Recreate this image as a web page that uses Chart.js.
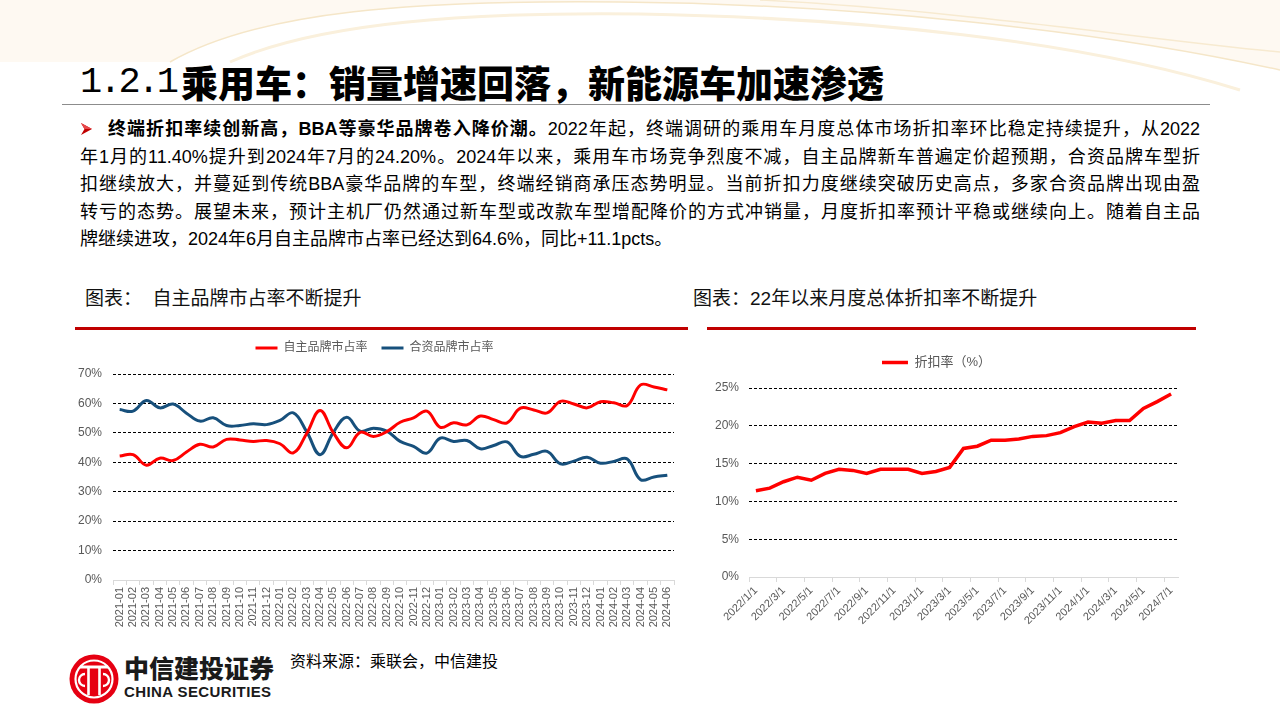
<!DOCTYPE html>
<html lang="zh-CN">
<head>
<meta charset="utf-8">
<title>1.2.1乘用车</title>
<script src="https://cdn.jsdelivr.net/npm/chart.js@4.4.1/dist/chart.umd.min.js"></script>
<style>
  html, body { margin: 0; padding: 0; }
  body {
    width: 1280px; height: 720px; position: relative; overflow: hidden; background: #fff;
    font-family: "Liberation Sans", "Noto Sans CJK SC", sans-serif; color: #000;
  }
  .abs { position: absolute; }
  #title { left: 80px; top: 61px; height: 42px; line-height: 42px; white-space: nowrap; }
  #title .num { font-family: "Liberation Mono", monospace; font-size: 37px; letter-spacing: -3px; vertical-align: top; }
  #title .cn { font-family: "Noto Sans CJK SC", sans-serif; font-weight: 900; font-size: 37px; vertical-align: top; margin-left: 5px; }
  #rule { left: 62px; top: 104px; width: 1148px; height: 1px; background: #8c8c8c; }
  #para { left: 80px; top: 116px; width: 1120px; font-size: 18px; line-height: 27.5px; }
  #para .ln { text-align: justify; text-align-last: justify; height: 27.5px; overflow: visible; }
  #para .ln.last { text-align-last: left; }
  #para .bullet { display: inline-block; width: 27px; vertical-align: -1px; }
  .head { top: 286px; font-size: 19px; line-height: 26px; white-space: nowrap; color: #111; }
  .redline { top: 327px; height: 3px; background: #c00000; }
  #src { left: 290px; top: 651px; font-size: 16px; line-height: 22px; white-space: nowrap; }
  #brand { left: 124px; top: 652px; font-family: "Noto Sans CJK SC", sans-serif; font-weight: 900; font-size: 25px; line-height: 30px; white-space: nowrap; color: #1a1a1a; }
  #brandEn { left: 124px; top: 683px; font-weight: bold; font-size: 15px; line-height: 18px; letter-spacing: 0.4px; white-space: nowrap; color: #1a1a1a; }
</style>
</head>
<body>

<!-- top decoration, kept faint -->
<svg class="abs" style="left:0;top:0" width="1280" height="110">
  <path d="M0 0 H1280 V70 C1100 30 850 4 620 2 C420 0 260 10 170 62 H0 Z" fill="#fdf7ec" opacity="0.7"/>
  <path d="M170 62 C260 10 420 0 620 2 C850 4 1100 30 1280 70" fill="none" stroke="#f5e6c8" stroke-width="1.5"/>
  <path d="M230 62 C320 22 470 12 640 14 C860 18 1080 40 1240 90" fill="none" stroke="#faf0dc" stroke-width="3"/>
  <path d="M760 0 C960 10 1150 40 1280 52" fill="none" stroke="#f7ead0" stroke-width="1.5"/>
</svg>

<div id="title" class="abs"><span class="num">1.2.1</span><span class="cn">乘用车：销量增速回落，新能源车加速渗透</span></div>
<div id="rule" class="abs"></div>

<div id="para" class="abs">
  <div class="ln"><span class="bullet"><svg width="13" height="14" viewBox="0 0 13 14"><path d="M1 1 L12 7 L1 13 L4.5 7 Z" fill="#c00000"/><path d="M1 1 L12 7 L4.5 7 Z" fill="#e8474a"/></svg></span><b>终端折扣率续创新高，BBA等豪华品牌卷入降价潮。</b>2022年起，终端调研的乘用车月度总体市场折扣率环比稳定持续提升，从2022</div>
  <div class="ln">年1月的11.40%提升到2024年7月的24.20%。2024年以来，乘用车市场竞争烈度不减，自主品牌新车普遍定价超预期，合资品牌车型折</div>
  <div class="ln">扣继续放大，并蔓延到传统BBA豪华品牌的车型，终端经销商承压态势明显。当前折扣力度继续突破历史高点，多家合资品牌出现由盈</div>
  <div class="ln">转亏的态势。展望未来，预计主机厂仍然通过新车型或改款车型增配降价的方式冲销量，月度折扣率预计平稳或继续向上。随着自主品</div>
  <div class="ln last">牌继续进攻，2024年6月自主品牌市占率已经达到64.6%，同比+11.1pcts。</div>
</div>

<div class="abs head" style="left:85px">图表：&nbsp;&nbsp;自主品牌市占率不断提升</div>
<div class="abs head" style="left:693px">图表：22年以来月度总体折扣率不断提升</div>
<div class="abs redline" style="left:75px;width:613px"></div>
<div class="abs redline" style="left:707px;width:489px"></div>

<canvas id="shareChart" class="abs" style="left:75px;top:328px" width="615" height="302"></canvas>
<canvas id="discountChart" class="abs" style="left:695px;top:342px" width="512" height="285"></canvas>

<!-- logo -->
<svg class="abs" style="left:69px;top:654px" width="50" height="50" viewBox="0 0 50 50">
  <circle cx="25" cy="25" r="24.5" fill="#e60012"/>
  <circle cx="25" cy="25" r="18.5" fill="none" stroke="#fff" stroke-width="2.2"/>
  <path d="M11 13 H39" stroke="#fff" stroke-width="3"/>
  <path d="M19.5 13 V41 M30.5 13 V41" stroke="#fff" stroke-width="2.6"/>
  <path d="M16 20 A6 6 0 0 0 16 32 M34 20 A6 6 0 0 1 34 32" fill="none" stroke="#fff" stroke-width="2.4"/>
</svg>
<div id="brand" class="abs">中信建投证券</div>
<div id="brandEn" class="abs">CHINA SECURITIES</div>
<div id="src" class="abs">资料来源：乘联会，中信建投</div>

<script>
// left chart: market share (%)
const shareLabels = [
  "2021-01", "2021-02", "2021-03", "2021-04", "2021-05", "2021-06", "2021-07", "2021-08", "2021-09", "2021-10", "2021-11", "2021-12",
  "2022-01", "2022-02", "2022-03", "2022-04", "2022-05", "2022-06", "2022-07", "2022-08", "2022-09", "2022-10", "2022-11", "2022-12",
  "2023-01", "2023-02", "2023-03", "2023-04", "2023-05", "2023-06", "2023-07", "2023-08", "2023-09", "2023-10", "2023-11", "2023-12",
  "2024-01", "2024-02", "2024-03", "2024-04", "2024-05", "2024-06"
];
const ownBrandShare = [
  42.1, 42.6, 39.0, 41.4, 40.6, 43.5, 46.1, 45.2, 47.8, 47.6, 47.1, 47.4,
  46.3, 43.2, 49.8, 57.6, 50.0, 44.9, 50.2, 48.8, 50.4, 53.6, 55.1, 57.4,
  51.9, 53.4, 52.7, 55.7, 54.5, 53.4, 58.4, 57.8, 56.8, 60.7, 59.8, 58.5,
  60.6, 60.2, 59.3, 66.3, 65.6, 64.6
];
const jvBrandShare = [
  57.9, 57.4, 61.0, 58.5, 59.8, 56.7, 54.0, 55.1, 52.5, 52.5, 53.1, 52.8,
  54.2, 56.8, 50.4, 42.6, 50.2, 55.3, 50.6, 51.6, 50.6, 47.1, 45.4, 43.1,
  48.2, 47.1, 47.4, 44.6, 45.7, 46.9, 42.0, 42.7, 43.7, 39.5, 40.4, 41.7,
  39.7, 40.3, 41.1, 34.1, 35.0, 35.6
];

// right chart: monthly discount rate (%)
const discountLabels = [
  "2022/1/1", "2022/2/1", "2022/3/1", "2022/4/1", "2022/5/1", "2022/6/1", "2022/7/1", "2022/8/1", "2022/9/1", "2022/10/1", "2022/11/1", "2022/12/1",
  "2023/1/1", "2023/2/1", "2023/3/1", "2023/4/1", "2023/5/1", "2023/6/1", "2023/7/1", "2023/8/1", "2023/9/1", "2023/10/1", "2023/11/1", "2023/12/1",
  "2024/1/1", "2024/2/1", "2024/3/1", "2024/4/1", "2024/5/1", "2024/6/1", "2024/7/1"
];
const discountRate = [
  11.4, 11.75, 12.6, 13.2, 12.8, 13.7, 14.25, 14.1, 13.7, 14.25, 14.25, 14.25,
  13.7, 13.95, 14.5, 17.0, 17.3, 18.1, 18.1, 18.25, 18.6, 18.7, 19.1, 19.9,
  20.5, 20.35, 20.7, 20.7, 22.3, 23.2, 24.2
];

Chart.defaults.font.family = '"Liberation Sans", "Noto Sans CJK SC", sans-serif';
Chart.defaults.color = "#595959";

// push the plot area a little further below the legend
const legendGap = (extra) => ({
  id: "legendGap",
  beforeInit(chart) {
    const fit = chart.legend.fit;
    chart.legend.fit = function () {
      fit.call(this);
      this.height += extra;
    };
  }
});

const dashedGrid = {
  color: (c) => (c.tick && c.tick.value === 0 ? "rgba(0,0,0,0)" : "#000"),
  lineWidth: 1,
  drawTicks: false
};

new Chart(document.getElementById("shareChart"), {
  type: "line",
  data: {
    labels: shareLabels,
    datasets: [
      { label: "自主品牌市占率", data: ownBrandShare, borderColor: "#ff0000", backgroundColor: "#ff0000", borderWidth: 3, pointRadius: 0, tension: 0.4 },
      { label: "合资品牌市占率", data: jvBrandShare, borderColor: "#17507c", backgroundColor: "#17507c", borderWidth: 3, pointRadius: 0, tension: 0.4 }
    ]
  },
  options: {
    responsive: false,
    animation: false,
    layout: { padding: { right: 16 } },
    plugins: {
      legend: {
        labels: { usePointStyle: true, pointStyle: "line", pointStyleWidth: 22, font: { size: 12 }, color: "#595959", padding: 14 }
      },
      tooltip: { enabled: false }
    },
    scales: {
      x: {
        offset: true,
        grid: { offset: true, drawOnChartArea: false, tickLength: 5, tickColor: "#d9d9d9" },
        border: { color: "#d9d9d9" },
        ticks: { autoSkip: false, minRotation: 90, maxRotation: 90, font: { size: 11 }, padding: 2 },
        afterFit: (scale) => { scale.height = 50; }
      },
      y: {
        min: 0,
        max: 70,
        ticks: { stepSize: 10, callback: (v) => v + "%", font: { size: 12 }, padding: 11 },
        grid: dashedGrid,
        border: { display: false, dash: [3, 2] },
        afterFit: (scale) => { scale.width = 38; }
      }
    }
  },
  plugins: [legendGap(10)]
});

new Chart(document.getElementById("discountChart"), {
  type: "line",
  data: {
    labels: discountLabels,
    datasets: [
      { label: "折扣率（%）", data: discountRate, borderColor: "#ff0000", backgroundColor: "#ff0000", borderWidth: 3.5, pointRadius: 0, tension: 0 }
    ]
  },
  options: {
    responsive: false,
    animation: false,
    layout: { padding: { right: 29 } },
    plugins: {
      legend: {
        labels: { usePointStyle: true, pointStyle: "line", pointStyleWidth: 26, font: { size: 13 }, color: "#595959", padding: 14 }
      },
      tooltip: { enabled: false }
    },
    scales: {
      x: {
        offset: true,
        grid: {
          offset: true,
          drawOnChartArea: false,
          tickLength: 5,
          tickColor: (c) => (c.index % 2 === 0 ? "#d9d9d9" : "rgba(0,0,0,0)")
        },
        border: { color: "#d9d9d9" },
        ticks: {
          autoSkip: false,
          minRotation: 45,
          maxRotation: 45,
          font: { size: 11 },
          padding: 2,
          callback: (v, i) => (i % 2 === 0 ? discountLabels[i] : "")
        },
        afterFit: (scale) => { scale.height = 50; }
      },
      y: {
        min: 0,
        max: 25,
        ticks: { stepSize: 5, callback: (v) => v + "%", font: { size: 12 }, padding: 10 },
        grid: dashedGrid,
        border: { display: false, dash: [3, 2] },
        afterFit: (scale) => { scale.width = 54; }
      }
    }
  },
  plugins: [legendGap(9)]
});
</script>
</body>
</html>
